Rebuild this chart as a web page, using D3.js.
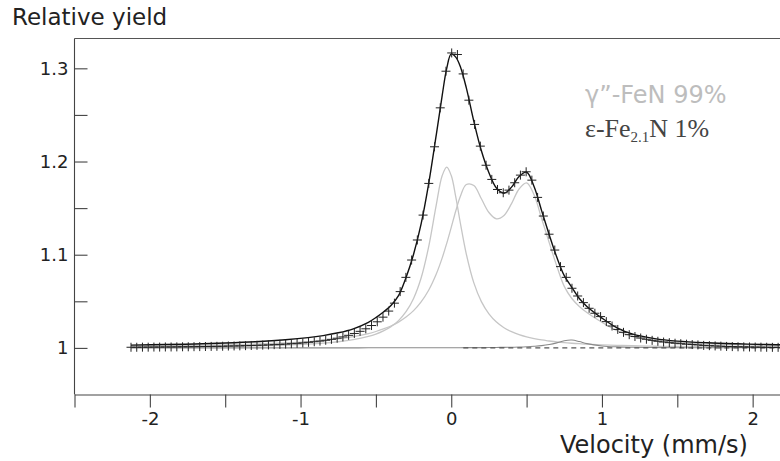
<!DOCTYPE html>
<html>
<head>
<meta charset="utf-8">
<script src="https://cdn.jsdelivr.net/npm/d3@7"></script>
<style>
  body { margin: 0; background: #fff; }
  svg { display: block; }
  .axis path, .axis line { stroke: #444; stroke-width: 1.1; }
  .axis text { font-family: "DejaVu Sans", sans-serif; font-size: 18px; fill: #222; }
</style>
</head>
<body>
<div class="chart"></div>
<script>
// -----------------------------------------------------------------------
// Data
// -----------------------------------------------------------------------

// measured points (crosses): velocity in mm/s and relative yield
const velocity = [
  -2.125, -2.087, -2.049, -2.011, -1.973, -1.935, -1.897, -1.859, -1.821, -1.783,
  -1.745, -1.707, -1.669, -1.631, -1.593, -1.555, -1.517, -1.479, -1.441, -1.403,
  -1.365, -1.327, -1.289, -1.251, -1.213, -1.175, -1.137, -1.099, -1.061, -1.023,
  -0.985, -0.947, -0.909, -0.871, -0.833, -0.795, -0.757, -0.719, -0.681, -0.643,
  -0.605, -0.567, -0.529, -0.491, -0.453, -0.415, -0.377, -0.339, -0.301, -0.263,
  -0.225, -0.187, -0.149, -0.111, -0.073, -0.035, 0.003, 0.041, 0.079, 0.117,
  0.155, 0.193, 0.231, 0.269, 0.307, 0.345, 0.383, 0.421, 0.459, 0.497,
  0.535, 0.573, 0.611, 0.649, 0.687, 0.725, 0.763, 0.801, 0.839, 0.877,
  0.915, 0.953, 0.991, 1.029, 1.067, 1.105, 1.143, 1.181, 1.219, 1.257,
  1.295, 1.333, 1.371, 1.409, 1.447, 1.485, 1.523, 1.561, 1.599, 1.637,
  1.675, 1.713, 1.751, 1.789, 1.827, 1.865, 1.903, 1.941, 1.979, 2.017,
  2.055, 2.093, 2.131, 2.169
];
const measured = [
  1.0007, 1.0007, 1.0008, 1.0008, 1.0009, 1.0009, 1.0010, 1.0010, 1.0011, 1.0012,
  1.0012, 1.0013, 1.0014, 1.0015, 1.0016, 1.0017, 1.0018, 1.0020, 1.0021, 1.0022,
  1.0024, 1.0026, 1.0028, 1.0030, 1.0032, 1.0035, 1.0038, 1.0041, 1.0045, 1.0049,
  1.0054, 1.0060, 1.0066, 1.0073, 1.0082, 1.0092, 1.0104, 1.0118, 1.0135, 1.0155,
  1.0178, 1.0205, 1.0240, 1.0280, 1.0330, 1.0395, 1.0480, 1.0604, 1.0757, 1.0943,
  1.1158, 1.1425, 1.1765, 1.2158, 1.2576, 1.2969, 1.3165, 1.3148, 1.2940, 1.2658,
  1.2398, 1.2165, 1.1960, 1.1808, 1.1700, 1.1665, 1.1693, 1.1772, 1.1854, 1.1890,
  1.1800, 1.1615, 1.1415, 1.1220, 1.1050, 1.0872, 1.0757, 1.0640, 1.0557, 1.0486,
  1.0425, 1.0372, 1.0336, 1.0282, 1.0235, 1.0198, 1.0167, 1.0142, 1.0122, 1.0106,
  1.0093, 1.0081, 1.0071, 1.0063, 1.0056, 1.0050, 1.0045, 1.0040, 1.0036, 1.0032,
  1.0027, 1.0024, 1.0021, 1.0019, 1.0016, 1.0014, 1.0012, 1.0011, 1.0010, 1.0009,
  1.0008, 1.0007, 1.0006, 1.0006
];

// fitted curves, sampled at these velocities
const fitVelocity = [
  -2.125, -1.9, -1.7, -1.5, -1.3, -1.1, -0.95, -0.85, -0.75, -0.65,
  -0.55, -0.5, -0.45, -0.4, -0.35, -0.3, -0.25, -0.2, -0.15, -0.1,
  -0.06, -0.03, 0, 0.03, 0.06, 0.1, 0.15, 0.2, 0.25, 0.3,
  0.35, 0.4, 0.45, 0.5, 0.55, 0.6, 0.65, 0.7, 0.75, 0.8,
  0.85, 0.9, 1.0, 1.1, 1.2, 1.35, 1.5, 1.7, 1.9, 2.1, 2.25
];
// total fit (black)
const fitTotal = [
  1.0030, 1.0036, 1.0042, 1.0052, 1.0066, 1.0087, 1.0110, 1.0132, 1.0162, 1.0205,
  1.0275, 1.0325, 1.0385, 1.0455, 1.0560, 1.0755, 1.1005, 1.1330, 1.1760, 1.2280,
  1.2710, 1.3000, 1.3155, 1.3120, 1.3020, 1.2790, 1.2430, 1.2115, 1.1880, 1.1715,
  1.1660, 1.1725, 1.1840, 1.1885, 1.1730, 1.1470, 1.1215, 1.0975, 1.0775, 1.0650,
  1.0530, 1.0445, 1.0320, 1.0215, 1.0150, 1.0100, 1.0073, 1.0055, 1.0044, 1.0036, 1.0032
];
// γ''-FeN singlet (light grey)
const fitSinglet = [
  1.0008, 1.0010, 1.0013, 1.0016, 1.0022, 1.0030, 1.0041, 1.0051, 1.0066, 1.0088,
  1.0123, 1.0148, 1.0182, 1.0228, 1.0293, 1.0388, 1.0531, 1.0750, 1.1084, 1.1529,
  1.1849, 1.1940, 1.1849, 1.1620, 1.1343, 1.1007, 1.0698, 1.0497, 1.0366, 1.0278,
  1.0217, 1.0174, 1.0142, 1.0118, 1.0100, 1.0085, 1.0074, 1.0064, 1.0056, 1.0050,
  1.0045, 1.0040, 1.0033, 1.0027, 1.0023, 1.0018, 1.0015, 1.0012, 1.0009, 1.0008, 1.0007
];
// γ''-FeN doublet (light grey)
const fitDoublet = [
  1.0018, 1.0021, 1.0026, 1.0032, 1.0041, 1.0054, 1.0068, 1.0081, 1.0098, 1.0122,
  1.0154, 1.0176, 1.0203, 1.0235, 1.0277, 1.0331, 1.0400, 1.0494, 1.0619, 1.0790,
  1.0966, 1.1122, 1.1294, 1.1469, 1.1624, 1.1753, 1.1743, 1.1600, 1.1453, 1.1385,
  1.1421, 1.1548, 1.1705, 1.1770, 1.1640, 1.1385, 1.1130, 1.0880, 1.0660, 1.0530,
  1.0445, 1.0380, 1.0275, 1.0185, 1.0125, 1.0080, 1.0058, 1.0043, 1.0034, 1.0028, 1.0025
];
// ε-Fe2.1N component (dark grey)
const fitEpsilon = [
  1.0000, 1.0000, 1.0000, 1.0000, 1.0000, 1.0000, 1.0000, 1.0000, 1.0000, 1.0000,
  1.0001, 1.0001, 1.0001, 1.0001, 1.0001, 1.0001, 1.0001, 1.0001, 1.0001, 1.0001,
  1.0002, 1.0002, 1.0002, 1.0002, 1.0002, 1.0003, 1.0003, 1.0003, 1.0004, 1.0005,
  1.0006, 1.0007, 1.0009, 1.0012, 1.0017, 1.0024, 1.0036, 1.0054, 1.0077, 1.0084,
  1.0068, 1.0046, 1.0021, 1.0011, 1.0007, 1.0004, 1.0002, 1.0002, 1.0001, 1.0001, 1.0001
];
// dashed reference line at unit yield
const baselineVelocity = [0.08, 2.25];
const baselineYield = [1, 1];

// axes
const X_DOMAIN = [-2.5, 2.2];
const Y_DOMAIN = [0.95, 1.332];
const xTickValues = [-2.5, -2, -1.5, -1, -0.5, 0, 0.5, 1, 1.5, 2];
const yTickValues = [1, 1.05, 1.1, 1.15, 1.2, 1.25, 1.3];
const xLabelTicks = [-2, -1, 0, 1, 2];
const yLabelTicks = [1, 1.1, 1.2, 1.3];

const legendLabels = ["γ”-FeN 99%", "ε-Fe", "2.1", "N 1%"];

// -----------------------------------------------------------------------
// Layout
// -----------------------------------------------------------------------

const WIDTH = 780;
const HEIGHT = 461;
const LEFT = 74.5;
const TOP = 38.5;
const BOTTOM = 394.5;
const TICK = 13;

const GREY = "#c6c6c6";

const svg = d3.select(".chart")
  .append("svg")
  .attr("width", WIDTH)
  .attr("height", HEIGHT);

const xScale = d3.scaleLinear().domain(X_DOMAIN).range([LEFT, LEFT + 4.7 * 150.7]);
const yScale = d3.scaleLinear().domain(Y_DOMAIN).range([BOTTOM, TOP]);

// frame top line
svg.append("line")
  .attr("x1", LEFT).attr("x2", WIDTH)
  .attr("y1", TOP).attr("y2", TOP)
  .attr("stroke", "#555").attr("stroke-width", 1.1);

// x axis, ticks pointing down
svg.append("g")
  .attr("class", "axis x-axis")
  .attr("transform", `translate(0, ${BOTTOM})`)
  .call(d3.axisBottom(xScale)
    .tickValues(xTickValues)
    .tickSizeInner(TICK)
    .tickSizeOuter(0)
    .tickPadding(5)
    .tickFormat(d => xLabelTicks.includes(d) ? d3.format("d")(d).replace("−", "-") : ""));

// y axis, ticks pointing into the plot
svg.append("g")
  .attr("class", "axis y-axis")
  .attr("transform", `translate(${LEFT}, 0)`)
  .call(d3.axisLeft(yScale)
    .tickValues(yTickValues)
    .tickSizeInner(-TICK)
    .tickSizeOuter(0)
    .tickPadding(6)
    .tickFormat(d => yLabelTicks.includes(d) ? d3.format("~g")(d) : ""));

// y-axis line continues up to the frame
svg.select(".y-axis path")
  .attr("d", `M0,${TOP}V${BOTTOM}`);

// -----------------------------------------------------------------------
// Drawing
// -----------------------------------------------------------------------

const line = d3.line()
  .x(d => xScale(d[0]))
  .y(d => yScale(d[1]))
  .curve(d3.curveCatmullRom.alpha(0.5));

function drawCurve(xs, ys, color, width, dash) {
  svg.append("path")
    .datum(d3.zip(xs, ys))
    .attr("d", line)
    .attr("fill", "none")
    .attr("stroke", color)
    .attr("stroke-width", width)
    .attr("stroke-dasharray", dash || null);
}

drawCurve(fitVelocity, fitSinglet, GREY, 1.3);
drawCurve(fitVelocity, fitDoublet, GREY, 1.3);
drawCurve(fitVelocity, fitEpsilon, "#8a8a8a", 1.1);
drawCurve(baselineVelocity, baselineYield, "#555", 1.1, "5,4");
drawCurve(fitVelocity, fitTotal, "#111", 1.4);

// measured points as crosses
svg.append("g")
  .attr("class", "points")
  .selectAll("path")
  .data(d3.zip(velocity, measured))
  .join("path")
  .attr("transform", d => `translate(${xScale(d[0])}, ${yScale(d[1])})`)
  .attr("d", "M-4.5,0H4.5M0,-4.5V4.5")
  .attr("stroke", "#222")
  .attr("stroke-width", 1);

// -----------------------------------------------------------------------
// Texts
// -----------------------------------------------------------------------

svg.append("text")
  .attr("x", 12).attr("y", 25)
  .attr("font-family", "DejaVu Sans, sans-serif")
  .attr("font-size", 23)
  .attr("fill", "#222")
  .text("Relative yield");

svg.append("text")
  .attr("x", 560).attr("y", 453)
  .attr("font-family", "DejaVu Sans, sans-serif")
  .attr("font-size", 24)
  .attr("fill", "#222")
  .text("Velocity (mm/s)");

// legend
svg.append("text")
  .attr("x", 585).attr("y", 103)
  .attr("font-family", "DejaVu Sans, sans-serif")
  .attr("font-size", 24)
  .attr("fill", "#bdbdbd")
  .text(legendLabels[0]);

const eps = svg.append("text")
  .attr("x", 585).attr("y", 137)
  .attr("font-family", "Liberation Serif, serif")
  .attr("font-size", 26)
  .attr("fill", "#444");
eps.append("tspan").text(legendLabels[1]);
eps.append("tspan").attr("font-size", 15).attr("dy", 5).text(legendLabels[2]);
eps.append("tspan").attr("dy", -5).text(legendLabels[3]);
</script>
</body>
</html>
